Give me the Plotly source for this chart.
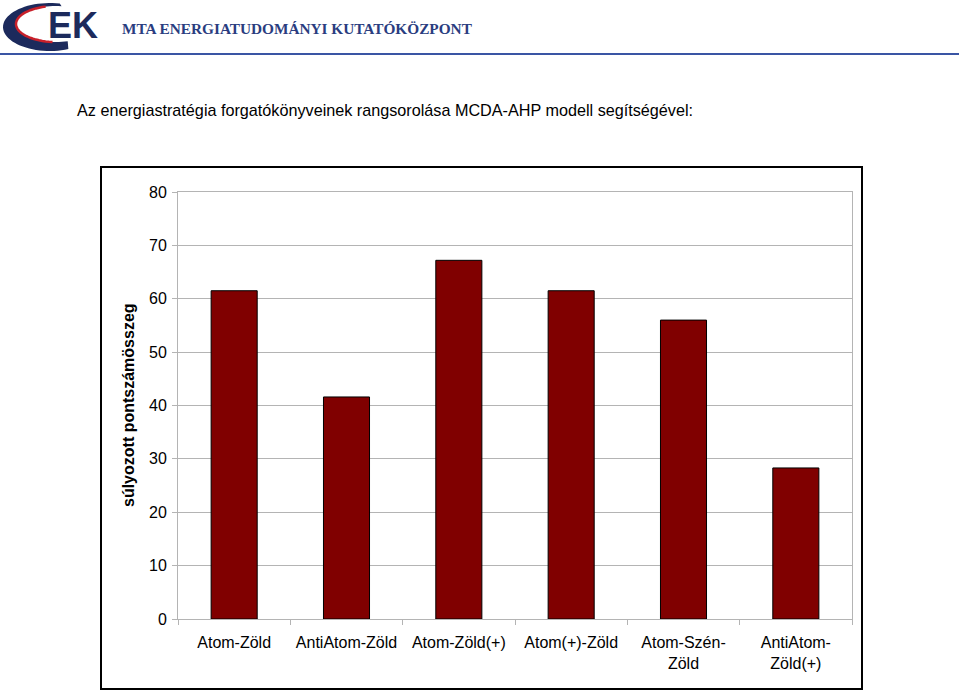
import plotly.graph_objects as go
import math

categories = ["Atom-Zöld", "AntiAtom-Zöld", "Atom-Zöld(+)", "Atom(+)-Zöld", "Atom-Szén-<br>Zöld", "AntiAtom-<br>Zöld(+)"]
scores = [61.5, 41.6, 67.2, 61.5, 56.0, 28.3]
y_ticks = [0, 10, 20, 30, 40, 50, 60, 70, 80]

W, H = 959, 691
def px(x): return x / W
def py(y): return 1 - y / H

fig = go.Figure()
fig.add_trace(go.Bar(
    x=categories, y=scores,
    marker=dict(color="#800000", line=dict(color="#000000", width=1)),
    width=0.41,
))

FONT = "Liberation Sans, Arial, sans-serif"
GRID = "#b4b4b4"

shapes = []
# chart box
shapes.append(dict(type="rect", xref="paper", yref="paper",
                   x0=px(101), x1=px(862), y0=py(689), y1=py(167),
                   line=dict(color="#000000", width=2), layer="below"))
# header blue line
shapes.append(dict(type="line", xref="paper", yref="paper",
                   x0=0, x1=1, y0=py(54), y1=py(54),
                   line=dict(color="#3a55a4", width=2)))

def path(points, close=True):
    s = "M " + " L ".join(f"{px(x):.5f},{py(y):.5f}" for x, y in points)
    return s + (" Z" if close else "")

# logo swoosh (navy crescent, thicker at lower left)
outer = []
inner = []
N = 48
for i in range(N + 1):
    a = math.radians(78 + i * (215 / N))
    outer.append((50 + 47 * math.cos(a), 27 - 24 * math.sin(a)))
for i in range(N, -1, -1):
    a = math.radians(82 + i * (205 / N))
    inner.append((56 + 40 * math.cos(a), 24 - 18 * math.sin(a)))
shapes.append(dict(type="path", xref="paper", yref="paper",
                   path=path(outer + inner), fillcolor="#1c2a5c",
                   line=dict(width=0)))
red = []
for i in range(0, 33):
    a = math.radians(105 + i * 5.0)
    red.append((56 + 40 * math.cos(a), 24 - 18 * math.sin(a)))
shapes.append(dict(type="path", xref="paper", yref="paper",
                   path=path(red, close=False), fillcolor="rgba(0,0,0,0)",
                   line=dict(color="#c8202a", width=2.5)))

annotations = [
    dict(text="EK", xref="paper", yref="paper", x=px(73), y=py(25),
         xanchor="center", yanchor="middle", showarrow=False,
         font=dict(family="Liberation Sans, Arial, sans-serif", size=36, color="#1c2a5c", weight="bold")),
    dict(text="MTA ENERGIATUDOMÁNYI KUTATÓKÖZPONT", xref="paper", yref="paper",
         x=px(120), y=py(28), xanchor="left", yanchor="middle", showarrow=False,
         font=dict(family="Liberation Serif, Times New Roman, serif", size=15.3,
                   color="#2a3d80", weight="bold")),
    dict(text="Az energiastratégia forgatókönyveinek rangsorolása MCDA-AHP modell segítségével:",
         xref="paper", yref="paper", x=px(75), y=py(110), xanchor="left", yanchor="middle",
         showarrow=False, font=dict(family=FONT, size=16.2, color="#000000")),
    dict(text="<b>súlyozott pontszámösszeg</b>", xref="paper", yref="paper",
         x=px(128), y=py(405), xanchor="center", yanchor="middle", textangle=-90,
         showarrow=False, font=dict(family=FONT, size=16, color="#000000")),
]

fig.update_layout(
    width=W, height=H,
    margin=dict(l=0, r=0, t=0, b=0, pad=0),
    paper_bgcolor="#ffffff", plot_bgcolor="#ffffff",
    showlegend=False,
    shapes=shapes, annotations=annotations,
    font=dict(family=FONT, size=16, color="#000000"),
    xaxis=dict(domain=[px(178), px(852)], showline=True, linecolor=GRID, linewidth=1,
               mirror=True, ticks="outside", tickson="boundaries", ticklen=5,
               tickcolor=GRID, showgrid=False, tickfont=dict(size=16, color="#000000"),
               ticklabelstandoff=9, automargin=False, fixedrange=True),
    yaxis=dict(domain=[py(619), py(192)], range=[0, 80], tickvals=y_ticks,
               showline=True, linecolor=GRID, linewidth=1, mirror=True,
               ticks="outside", ticklen=5, tickcolor=GRID,
               showgrid=True, gridcolor=GRID, gridwidth=1, zeroline=False,
               tickfont=dict(size=16, color="#000000"), ticklabelstandoff=2,
               automargin=False, fixedrange=True),
)

fig.write_html("out.html", config={"displayModeBar": False},
               post_script="document.body.style.margin='0';document.body.style.overflow='hidden';")
